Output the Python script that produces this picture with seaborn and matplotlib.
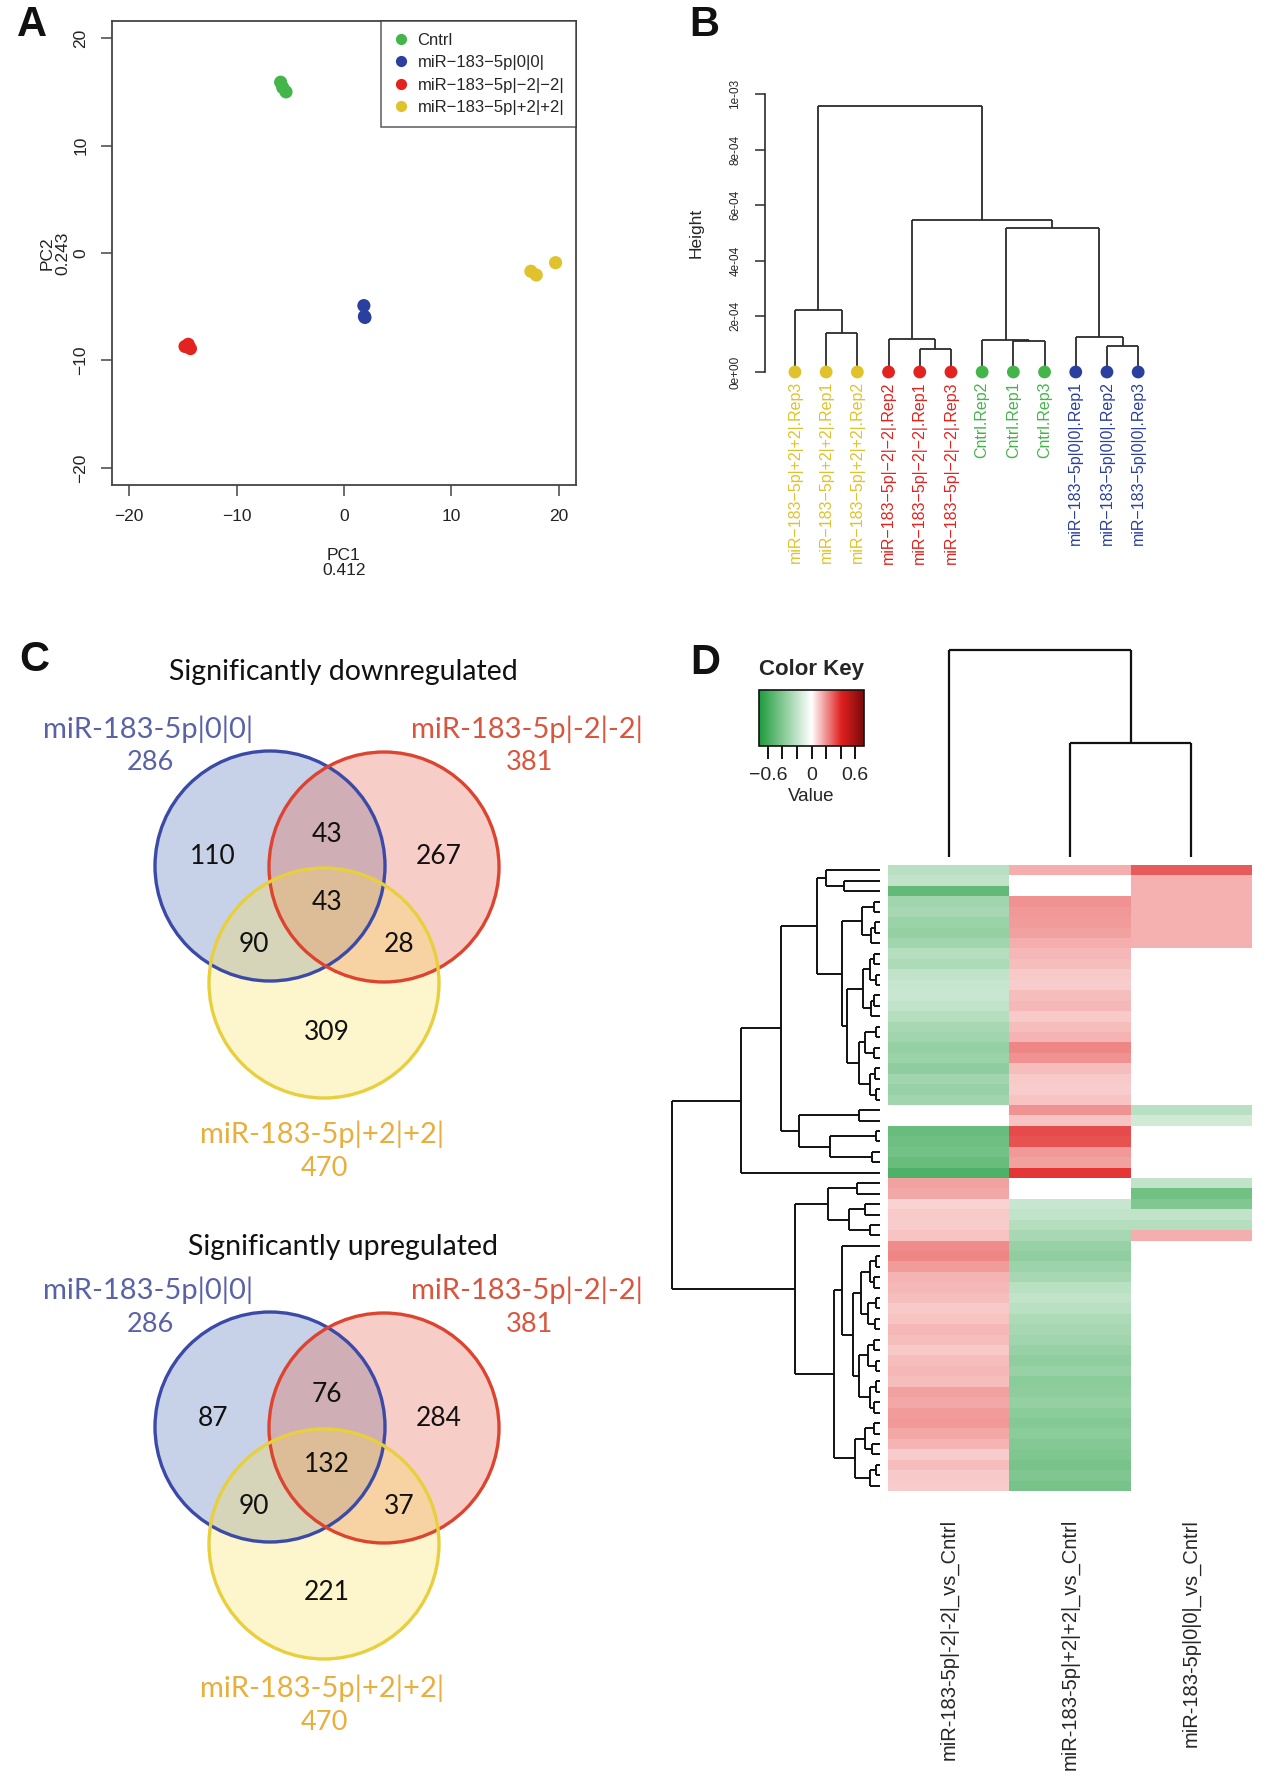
import numpy as np
import pandas as pd
import matplotlib
matplotlib.use("Agg")
import matplotlib.pyplot as plt
import matplotlib as mpl
import seaborn as sns
from matplotlib.colors import LinearSegmentedColormap, Normalize
from matplotlib.patches import Circle

# ---------------- data ----------------
# A: PCA scores
pca_group = ["Cntrl"] * 3 + ["miR−183−5p|0|0|"] * 3 + ["miR−183−5p|−2|−2|"] * 3 + ["miR−183−5p|+2|+2|"] * 3
pca_pc1 = [-5.9, -5.4, -5.7, 1.85, 1.9, 1.95, -14.8, -14.3, -14.5, 17.4, 17.9, 19.7]
pca_pc2 = [15.9, 15.0, 15.4, -4.9, -5.9, -6.0, -8.7, -8.9, -8.5, -1.7, -2.05, -0.9]
group_order = ["Cntrl", "miR−183−5p|0|0|", "miR−183−5p|−2|−2|", "miR−183−5p|+2|+2|"]
group_colors = ["#43b54a", "#2b3f9e", "#e2231f", "#e0c22c"]

# B: sample clustering (leaves in plotted order, merge heights)
leaf_labels = ["miR−183−5p|+2|+2|.Rep3", "miR−183−5p|+2|+2|.Rep1", "miR−183−5p|+2|+2|.Rep2",
               "miR−183−5p|−2|−2|.Rep2", "miR−183−5p|−2|−2|.Rep1", "miR−183−5p|−2|−2|.Rep3",
               "Cntrl.Rep2", "Cntrl.Rep1", "Cntrl.Rep3",
               "miR−183−5p|0|0|.Rep1", "miR−183−5p|0|0|.Rep2", "miR−183−5p|0|0|.Rep3"]
leaf_group = [3, 3, 3, 2, 2, 2, 0, 0, 0, 1, 1, 1]
sample_tree = ((0, (1, 2, 1.41e-4), 2.24e-4),
               ((3, (4, 5, 0.82e-4), 1.18e-4),
                ((6, (7, 8, 1.10e-4), 1.15e-4), (9, (10, 11, 0.93e-4), 1.25e-4), 5.19e-4),
                5.47e-4),
               9.56e-4)
height_ticks = [0, 2e-4, 4e-4, 6e-4, 8e-4, 1e-3]
height_tick_labels = ["0e+00", "2e-04", "4e-04", "6e-04", "8e-04", "1e-03"]

# C: Venn counts, regions A, B, C, AB, AC, BC, ABC
set_names = ["miR-183-5p|0|0|", "miR-183-5p|-2|-2|", "miR-183-5p|+2|+2|"]
set_totals = [286, 381, 470]
down_counts = [110, 267, 309, 43, 90, 28, 43]
up_counts = [87, 284, 221, 76, 90, 37, 132]

# D: heatmap of fold changes
hm_columns = ["miR-183-5p|-2|-2|_vs_Cntrl", "miR-183-5p|+2|+2|_vs_Cntrl", "miR-183-5p|0|0|_vs_Cntrl"]
nan = np.nan
lfc_m2 = [-0.22, -0.20, -0.50, -0.30, -0.28, -0.32, -0.34, -0.30, -0.24, -0.26,
          -0.20, -0.18, -0.17, -0.20, -0.24, -0.28, -0.30, -0.34, -0.32, -0.36,
          -0.30, -0.33, -0.30, nan, nan, -0.48, -0.46, -0.44, -0.48, -0.56,
          0.17, 0.16, 0.08, 0.10, 0.09, 0.11, 0.21, 0.22, 0.18, 0.14,
          0.13, 0.12, 0.10, 0.11, 0.13, 0.12, 0.10, 0.12, 0.13, 0.12,
          0.17, 0.16, 0.18, 0.19, 0.16, 0.14, 0.09, 0.12, 0.10, 0.09]
lfc_p2 = [0.15, nan, nan, 0.20, 0.19, 0.18, 0.17, 0.15, 0.13, 0.12,
          0.10, 0.09, 0.12, 0.13, 0.10, 0.12, 0.14, 0.22, 0.20, 0.12,
          0.10, 0.09, 0.11, 0.20, 0.11, 0.33, 0.32, 0.19, 0.17, 0.37,
          nan, nan, -0.18, -0.20, -0.24, -0.28, -0.33, -0.35, -0.31, -0.28,
          -0.22, -0.20, -0.22, -0.26, -0.28, -0.30, -0.33, -0.35, -0.33, -0.37,
          -0.36, -0.34, -0.37, -0.39, -0.37, -0.39, -0.41, -0.43, -0.41, -0.43]
lfc_00 = [0.30, 0.145, 0.145, 0.145, 0.145, 0.145, 0.145, 0.145, nan, nan,
          nan, nan, nan, nan, nan, nan, nan, nan, nan, nan,
          nan, nan, nan, -0.22, -0.15, nan, nan, nan, nan, nan,
          -0.20, -0.45, -0.40, -0.20, -0.24, 0.15, nan, nan, nan, nan,
          nan, nan, nan, nan, nan, nan, nan, nan, nan, nan,
          nan, nan, nan, nan, nan, nan, nan, nan, nan, nan]
gene_tree = (
    (((((0, (1, 2, 0.175), 0.26),
        (((3, 4, 0.03), ((5, 6, 0.025), 7, 0.045), 0.085),
         ((((8, 9, 0.03), (10, 11, 0.02), 0.05), ((12, 13, 0.03), 14, 0.045), 0.08),
          (((15, 16, 0.02), (17, 18, 0.03), 0.07), ((19, 20, 0.025), (21, 22, 0.02), 0.05), 0.1),
          0.16),
         0.185),
        0.305),
       ((23, 24, 0.1), ((25, 26, 0.02), (27, 28, 0.04), 0.24), 0.389),
       0.476),
      29, 0.666),
     (((30, 31, 0.11), ((32, 33, 0.07), (34, 35, 0.05), 0.15), 0.25),
      ((36,
        ((((37, 38, 0.02), (39, 40, 0.03), 0.05), ((41, 42, 0.02), (43, 44, 0.025), 0.06), 0.09),
         (((45, 46, 0.03), (47, 48, 0.02), 0.06), ((49, 50, 0.02), (51, 52, 0.03), 0.05), 0.1),
         0.13),
        0.185),
       (((53, 54, 0.03), (55, 56, 0.04), 0.07), ((57, 58, 0.02), 59, 0.05), 0.12),
       0.221),
      0.409),
     1.0))
contrast_tree = (0, (1, 2, 0.55), 1.0)
key_ticks = [-0.6, -0.4, -0.2, 0, 0.2, 0.4, 0.6]
key_tick_labels = ["−0.6", "", "", "0", "", "", "0.6"]

# ---------------- figure ----------------
W, H = 1280, 1780
sns.set_theme(style="white")
plt.rcParams["font.family"] = ["Liberation Sans", "DejaVu Sans"]
fig = plt.figure(figsize=(W / 100, H / 100), dpi=100)
fig.patch.set_facecolor("white")


def px_axes(x0, y0, x1, y1):
    return fig.add_axes([x0 / W, 1 - y1 / H, (x1 - x0) / W, (y1 - y0) / H])


def dendro_segments(node, pos):
    if isinstance(node, int):
        return pos[node], 0.0, []
    left, right, h = node
    pl, hl, sl = dendro_segments(left, pos)
    pr, hr, sr = dendro_segments(right, pos)
    segs = sl + sr + [((pl, pl), (hl, h)), ((pl, pr), (h, h)), ((pr, pr), (h, hr))]
    return (pl + pr) / 2, h, segs


LINE = "#2b2b2b"

# ---- A: PCA ----
ax = px_axes(112, 21, 576, 485)
pca = pd.DataFrame({"PC1": pca_pc1, "PC2": pca_pc2, "group": pca_group})
sns.scatterplot(data=pca, x="PC1", y="PC2", hue="group", hue_order=group_order,
                palette=group_colors, s=90, edgecolor="none", ax=ax)
ax.set_xlim(-21.6, 21.6)
ax.set_ylim(-21.6, 21.6)
ax.set_xticks([-20, -10, 0, 10, 20])
ax.set_yticks([-20, -10, 0, 10, 20])
ax.set_yticklabels(["−20", "−10", "0", "10", "20"], rotation=90, va="center")
ax.tick_params(direction="out", length=8, width=1.1, color="#444", labelsize=12.5,
               bottom=True, left=True, pad=9, labelcolor="#222")
for s in ax.spines.values():
    s.set_color("#444")
    s.set_linewidth(1.3)
ax.set_xlabel("PC1\n0.412", fontsize=12.5, linespacing=1.05, color="#222")
ax.xaxis.set_label_coords(0.5, -0.135)
ax.set_ylabel("PC2\n0.243", fontsize=12.5, linespacing=1.05, color="#222")
ax.yaxis.set_label_coords(-0.09, 0.5)
handles, labels = ax.get_legend_handles_labels()
leg = ax.legend(handles, labels, loc="upper right", frameon=True, fancybox=False,
                edgecolor="#333", borderaxespad=0, fontsize=12, handlelength=1.0,
                handletextpad=0.5, borderpad=0.7, labelspacing=0.45, markerscale=0.85)
leg.get_frame().set_linewidth(1.1)

# ---- B: sample dendrogram ----
axb = px_axes(765, 94, 1160, 372)
leaf_x = list(range(1, len(leaf_labels) + 1))
_, _, segs = dendro_segments(sample_tree, leaf_x)
for xs, ys in segs:
    axb.plot(xs, ys, color=LINE, lw=1.3, solid_capstyle="butt", clip_on=False)
leaf_df = pd.DataFrame({"x": leaf_x, "h": [0.0] * len(leaf_x),
                        "group": [group_order[g] for g in leaf_group]})
sns.scatterplot(data=leaf_df, x="x", y="h", hue="group", hue_order=group_order,
                palette=group_colors, s=85, edgecolor="none", legend=False,
                ax=axb, clip_on=False, zorder=3)
for x, lab, g in zip(leaf_x, leaf_labels, leaf_group):
    axb.text(x, -0.33e-4, lab, rotation=90, ha="center", va="top",
             color=group_colors[g], fontsize=11.5)
axb.set_xlim(0.04, 12.7)
axb.set_ylim(0, 1e-3)
for k in ["top", "right", "bottom"]:
    axb.spines[k].set_visible(False)
axb.spines["left"].set_bounds(0, 1e-3)
axb.spines["left"].set_color(LINE)
axb.spines["left"].set_linewidth(1.2)
axb.set_xticks([])
axb.set_yticks(height_ticks)
axb.set_yticklabels(height_tick_labels, rotation=90, va="center")
axb.tick_params(axis="y", direction="out", length=7, width=1.1, color=LINE,
                labelsize=8.5, left=True, pad=10)
axb.set_xlabel("")
axb.set_ylabel("Height", fontsize=12.5)
axb.yaxis.set_label_coords(-0.155, 0.5)

# ---- C: Venn diagrams ----
axv = px_axes(0, 640, 660, 1780)
axv.set_xlim(0, 660)
axv.set_ylim(1780, 640)
axv.axis("off")
venn_font = ["Lato", "DejaVu Sans"]
circle_xy = [(270, 0), (384, 1), (324, 117)]
circle_r = 115
region_xy = [(213, -9), (439, -9), (327, 166), (327, -32), (254, 79), (399, 79), (327, 37)]
set_edge = ["#3a4aa6", "#dd4430", "#e8cf3e"]
set_face = ["#4869b2", "#e75d46", "#f9e155"]
set_text = ["#5a62a6", "#d9553d", "#e9ae3c"]


def draw_venn(counts, title, base, title_y, name_y, bottom_y):
    for (cx, cy), fc in zip(circle_xy, set_face):
        axv.add_patch(Circle((cx, base + cy), circle_r, facecolor=fc, alpha=0.3,
                             edgecolor="none"))
    for (cx, cy), ec in zip(circle_xy, set_edge):
        axv.add_patch(Circle((cx, base + cy), circle_r, facecolor="none",
                             edgecolor=ec, lw=2.4))
    for (rx, ry), n in zip(region_xy, counts):
        axv.text(rx, base + ry, str(n), ha="center", va="center", fontsize=19,
                 family=venn_font, color="#111")
    axv.text(343, title_y, title, ha="center", va="center", fontsize=20.5,
             family=venn_font, color="#111")
    name_pos = [(148, name_y), (527, name_y), (322, bottom_y)]
    for (nx, ny), nm, tot, col in zip(name_pos, set_names, set_totals, set_text):
        axv.text(nx, ny, nm, ha="center", va="center", fontsize=21,
                 family=venn_font, color=col)
        axv.text(nx + 2, ny + 34, str(tot), ha="center", va="center", fontsize=19.5,
                 family=venn_font, color=col)


draw_venn(down_counts, "Significantly downregulated", 866, 672, 729, 1134)
draw_venn(up_counts, "Significantly upregulated", 1427, 1247, 1290, 1688)

# ---- D: heatmap ----
vlim = 0.72
key_cmap = LinearSegmentedColormap.from_list(
    "gwr", [(0.0, "#1e9b3c"), (0.5, "#ffffff"), (0.785, "#e0201f"), (1.0, "#7a0a0a")])
hm_df = pd.DataFrame({hm_columns[0]: lfc_m2, hm_columns[1]: lfc_p2, hm_columns[2]: lfc_00})
axh = px_axes(888, 865, 1252, 1491)
sns.heatmap(hm_df, ax=axh, cmap=key_cmap, vmin=-vlim, vmax=vlim, cbar=False,
            xticklabels=True, yticklabels=False)
axh.set_xticklabels(hm_columns, rotation=90, ha="center", va="top", fontsize=14.5)
axh.tick_params(axis="x", length=0, pad=20)
axh.set_xlabel("")
axh.set_ylabel("")

axr = px_axes(672, 865, 880, 1491)
_, _, segs = dendro_segments(gene_tree, [i + 0.5 for i in range(len(lfc_m2))])
for ps, hs in segs:
    axr.plot(hs, ps, color="#111", lw=1.4, solid_capstyle="butt", clip_on=False)
axr.set_xlim(1.0, 0.0)
axr.set_ylim(len(lfc_m2), 0)
axr.axis("off")

axc = px_axes(888, 650, 1252, 857)
_, _, segs = dendro_segments(contrast_tree, [0.5, 1.5, 2.5])
for ps, hs in segs:
    axc.plot(ps, hs, color="#111", lw=1.6, solid_capstyle="butt", clip_on=False)
axc.set_xlim(0, 3)
axc.set_ylim(0, 1)
axc.axis("off")

axk = px_axes(759, 690, 864, 746)
cb = fig.colorbar(mpl.cm.ScalarMappable(norm=Normalize(-vlim, vlim), cmap=key_cmap),
                  cax=axk, orientation="horizontal")
cb.outline.set_linewidth(1.2)
cb.outline.set_edgecolor("#111")
cb.set_ticks(key_ticks)
cb.set_ticklabels(key_tick_labels)
axk.tick_params(axis="x", direction="out", length=9, width=1.4, color="#111",
                labelsize=14, pad=6, bottom=True)
axk.set_title("Color Key", fontsize=16, fontweight="bold", pad=11)
axk.set_xlabel("Value", fontsize=13.5, labelpad=3)

# ---- panel letters ----
for lab, x, y in [("A", 32, 25), ("B", 704, 25), ("C", 34, 660), ("D", 705, 663)]:
    fig.text(x / W, 1 - y / H, lab, ha="center", va="center", fontsize=30,
             fontweight="bold", color="#111")

fig.savefig("out.png", dpi=100, facecolor="white")
